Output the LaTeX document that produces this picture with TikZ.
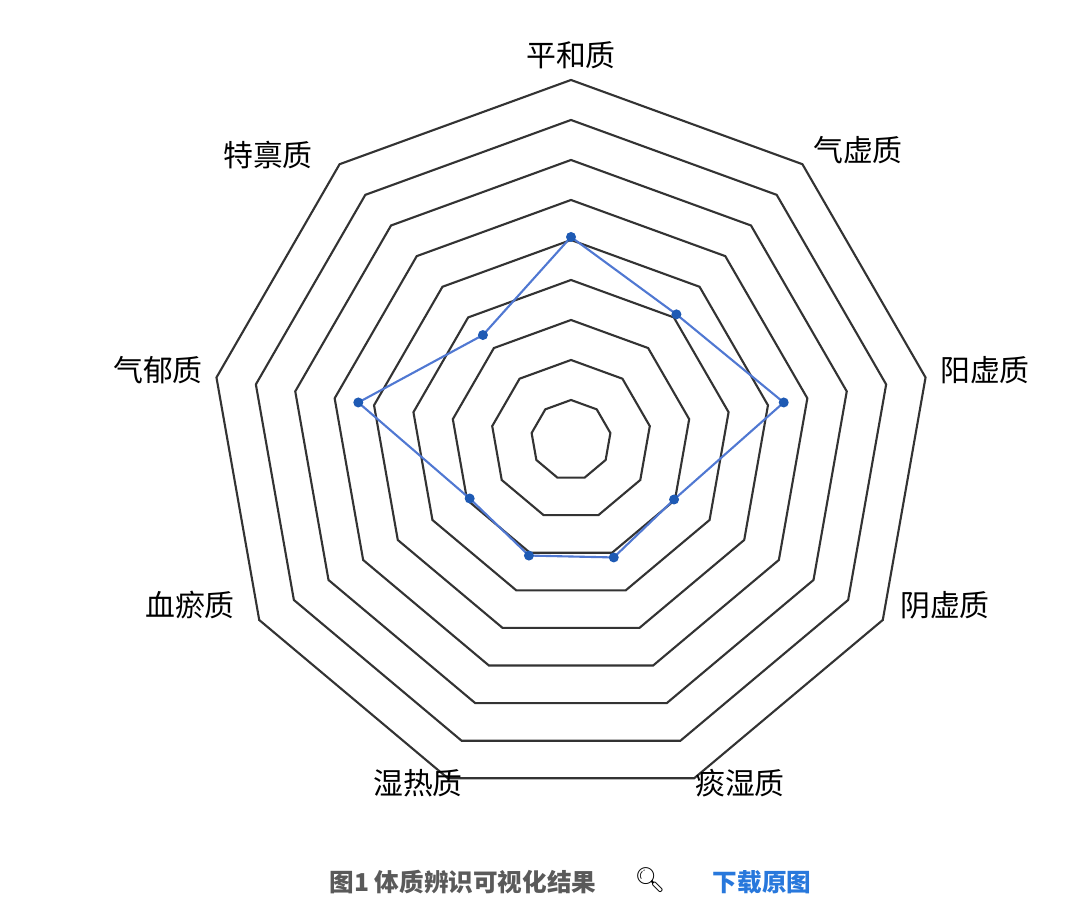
\documentclass[tikz,border=0pt]{standalone}
\usepackage{fontspec}
\usetikzlibrary{calc}
\setmainfont{Noto Sans CJK SC}
\newfontfamily\emojifont{Noto Emoji}
\definecolor{lineblue}{RGB}{80,120,210}
\definecolor{dotblue}{RGB}{30,90,180}
\definecolor{capgray}{RGB}{90,90,90}
\definecolor{linkblue}{RGB}{40,120,220}
\tikzset{
  ring/.style={draw=black!80, line width=0.6pt},
  axislabel/.style={font=\fontsize{8.5}{10}\selectfont, inner sep=1pt},
  datadot/.style={circle, fill=dotblue, inner sep=0pt, minimum size=0.1cm}
}
\begin{document}
\begin{tikzpicture}
  \useasboundingbox (0,0) rectangle (10.8,9.13);
  \coordinate (center) at (5.71,4.73);

  % rings
  \foreach \r in {0.4,0.8,...,3.61}{
    \draw[ring] ($(center)+(90:\r)$) \foreach \k in {1,...,8}{ -- ($(center)+(90-40*\k:\r)$)} -- cycle;
  }

  % labels
  \node[axislabel] (pinghe) at (5.71,8.58) {平和质};
  \node[axislabel] (qixu)   at (8.58,7.63) {气虚质};
  \node[axislabel] (yangxu) at (9.85,5.43) {阳虚质};
  \node[axislabel] (yinxu)  at (9.45,3.08) {阴虚质};
  \node[axislabel] (tanshi) at (7.40,1.30) {痰湿质};
  \node[axislabel] (shire)  at (4.18,1.30) {湿热质};
  \node[axislabel] (xueyu)  at (1.90,3.08) {血瘀质};
  \node[axislabel] (qiyu)   at (1.58,5.43) {气郁质};
  \node[axislabel] (tebing) at (2.68,7.58) {特禀质};

  % data
  \foreach \v [count=\k from 0] in {2.03,1.64,2.16,1.19,1.25,1.23,1.17,2.16,1.37}{
    \coordinate (p\k) at ($(center)+(90-40*\k:\v)$);
  }
  \draw[lineblue, line width=0.6pt] (p0) -- (p1) -- (p2) -- (p3) -- (p4) -- (p5) -- (p6) -- (p7) -- (p8) -- cycle;
  \foreach \k in {0,...,8}{
    \node[datadot] (dot\k) at (p\k) {};
  }

  % caption
  \node[text=capgray, font=\bfseries\fontsize{7}{8}\selectfont] (caption) at (4.63,0.31) {图1 体质辨识可视化结果};
  \node[font=\emojifont\fontsize{7}{8}\selectfont] (zoomicon) at (6.50,0.33) {🔍};
  \node[text=linkblue, font=\bfseries\fontsize{7}{8}\selectfont] (download) at (7.62,0.31) {下载原图};
\end{tikzpicture}
\end{document}
